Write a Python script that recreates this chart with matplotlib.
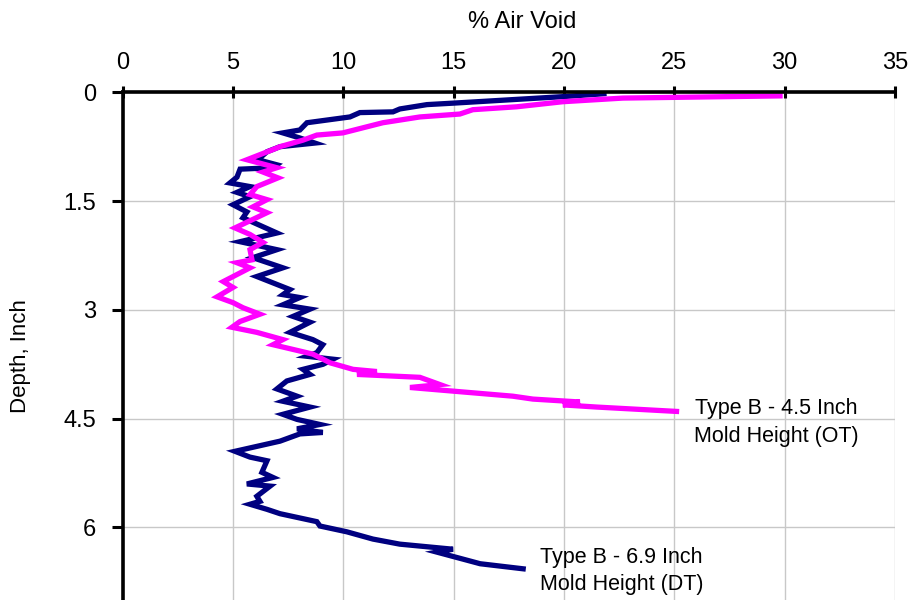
import numpy as np
import matplotlib
matplotlib.use("Agg")
import matplotlib.pyplot as plt

plt.rcParams['font.family'] = ['Liberation Sans', 'DejaVu Sans']

# Type B - 6.9 inch mold height (DT): % air void vs depth
dt_void = [21.81, 19.95, 14.97, 13.79, 12.56, 12.25, 10.75, 10.30, 8.35, 8.03,
           7.26, 8.03, 8.71, 7.13, 6.54, 6.13, 6.99, 6.81, 5.32, 5.18,
           4.86, 5.77, 5.18, 5.77, 5.00, 5.63, 5.45, 6.99, 5.32, 6.99,
           5.90, 7.26, 6.08, 7.58, 7.26, 8.03, 7.26, 8.49, 7.72, 8.49,
           7.58, 8.62, 9.07, 8.80, 8.35, 9.53, 9.08, 8.17, 8.49, 7.44,
           6.99, 7.90, 7.26, 8.49, 7.26, 7.90, 8.94, 7.90, 9.07, 8.03,
           7.13, 5.09, 5.77, 6.54, 6.31, 6.81, 5.63, 6.68, 6.08, 6.22,
           5.77, 6.54, 7.13, 8.80, 8.94, 10.16, 11.34, 12.56, 14.97, 14.24,
           16.20, 18.15]
dt_depth = [0.02, 0.06, 0.15, 0.17, 0.23, 0.27, 0.28, 0.34, 0.42, 0.52,
            0.56, 0.63, 0.70, 0.75, 0.82, 0.93, 1.00, 1.04, 1.06, 1.17,
            1.25, 1.30, 1.38, 1.44, 1.55, 1.65, 1.73, 1.94, 2.06, 2.17,
            2.28, 2.42, 2.54, 2.72, 2.79, 2.83, 2.93, 2.99, 3.09, 3.17,
            3.31, 3.41, 3.48, 3.59, 3.64, 3.68, 3.75, 3.82, 3.89, 3.98,
            4.09, 4.19, 4.26, 4.34, 4.44, 4.51, 4.58, 4.64, 4.69, 4.71,
            4.81, 4.95, 5.03, 5.08, 5.24, 5.31, 5.40, 5.43, 5.57, 5.64,
            5.68, 5.75, 5.81, 5.92, 5.98, 6.06, 6.16, 6.23, 6.30, 6.34,
            6.50, 6.57]

# Type B - 4.5 inch mold height (OT)
ot_void = [29.79, 22.67, 19.95, 17.86, 15.87, 15.28, 13.47, 11.79, 9.98, 8.80,
           8.17, 7.13, 6.81, 6.22, 5.63, 6.99, 6.36, 7.04, 6.08, 5.77,
           6.54, 5.90, 6.54, 5.09, 5.77, 6.36, 5.77, 5.86, 5.18, 5.77,
           4.56, 5.00, 4.28, 5.00, 5.45, 6.22, 5.32, 4.95, 6.08, 7.26,
           6.81, 8.62, 9.40, 10.44, 11.52, 10.62, 13.47, 14.38, 13.02, 17.68,
           18.59, 20.72, 19.95, 21.49, 25.10]
ot_depth = [0.05, 0.08, 0.13, 0.20, 0.24, 0.30, 0.34, 0.42, 0.56, 0.59,
            0.66, 0.75, 0.79, 0.86, 0.93, 1.04, 1.10, 1.18, 1.30, 1.41,
            1.48, 1.58, 1.66, 1.87, 1.96, 2.07, 2.17, 2.31, 2.35, 2.42,
            2.61, 2.69, 2.82, 2.90, 2.97, 3.06, 3.16, 3.24, 3.31, 3.41,
            3.48, 3.61, 3.73, 3.82, 3.85, 3.89, 3.93, 4.03, 4.07, 4.19,
            4.23, 4.27, 4.31, 4.34, 4.40]

x_ticks = [0, 5, 10, 15, 20, 25, 30, 35]
y_ticks = [0, 1.5, 3, 4.5, 6]
y_tick_labels = ['0', '1.5', '3', '4.5', '6']

fig = plt.figure(figsize=(9.1, 6.0), dpi=100)
ax = fig.add_axes([0.1348, 0.0, 0.8487, 0.8462])

ax.plot(dt_void, dt_depth, color='#000080', lw=3.8, solid_joinstyle='miter')
ax.plot(ot_void, ot_depth, color='#FF00FF', lw=3.8, solid_joinstyle='miter')

ax.set_xlim(0, 35)
ax.set_ylim(7.0, 0)
ax.set_xticks(x_ticks)
ax.set_yticks(y_ticks)
ax.set_yticklabels(y_tick_labels)

ax.xaxis.tick_top()
ax.xaxis.set_label_position('top')
ax.set_xlabel('% Air Void', fontsize=17)
ax.xaxis.set_label_coords(0.517, 1.127)
ax.set_ylabel('Depth, Inch', fontsize=16)
ax.yaxis.set_label_coords(-0.119, 0.481)

ax.tick_params(axis='x', labelsize=17, length=8, width=2.2, direction='inout', pad=9)
ax.tick_params(axis='y', labelsize=17, length=8, width=2.2, direction='out', pad=11)

for side in ['right', 'bottom']:
    ax.spines[side].set_visible(False)
for side in ['top', 'left']:
    ax.spines[side].set_linewidth(2.6)
    ax.spines[side].set_color('black')

ax.grid(True, color='#c8c8c8', lw=1.0)
ax.set_axisbelow(True)

ax.text(29.6, 4.36, 'Type B - 4.5 Inch', fontsize=15.5, ha='center', va='center')
ax.text(29.6, 4.74, 'Mold Height (OT)', fontsize=15.5, ha='center', va='center')
ax.text(22.6, 6.41, 'Type B - 6.9 Inch', fontsize=15.5, ha='center', va='center')
ax.text(22.6, 6.78, 'Mold Height (DT)', fontsize=15.5, ha='center', va='center')

fig.savefig('out.png', dpi=100)
